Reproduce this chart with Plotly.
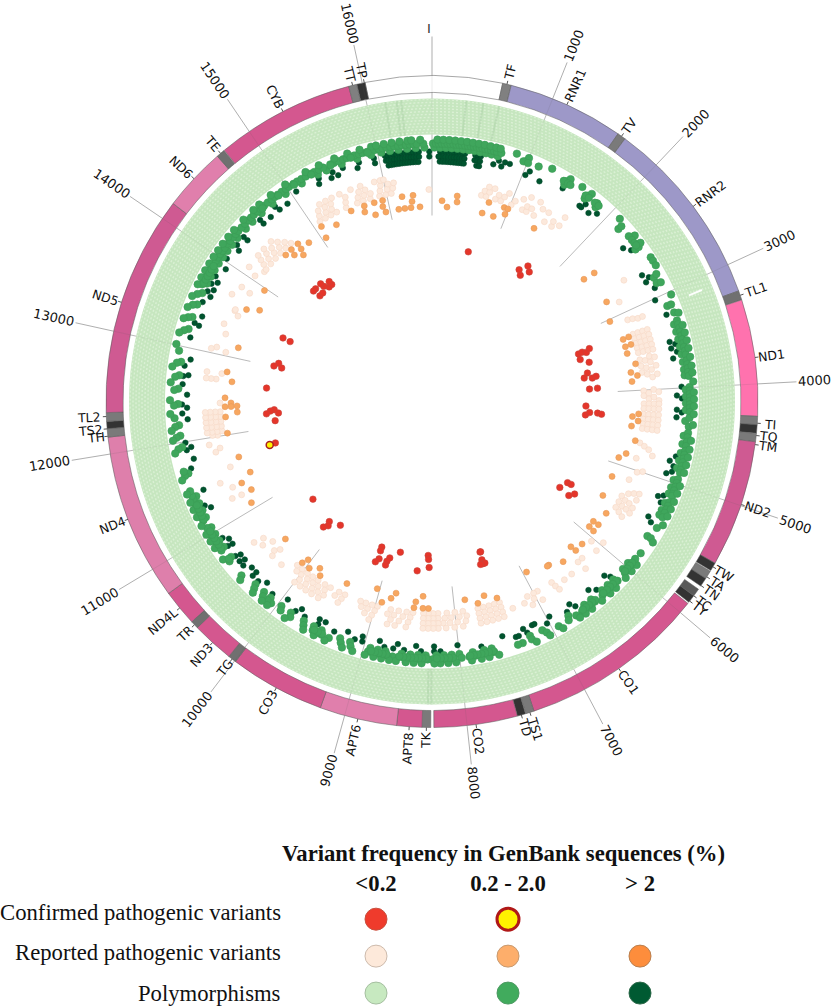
import math
import plotly.graph_objects as go

GENOME = 16569
W, H = 835, 1008
CX, CY, RMAX = 432, 401.5, 395

gene_names = ["DL","TF","RNR1","TV","RNR2","TL1","ND1","TI","TQ","TM","ND2","TW","TA","TN","TC","TY","CO1","TS1","TD","CO2","TK","APT8","APT6","CO3","TG","ND3","TR","ND4L","ND4","TH","TS2","TL2","ND5","ND6","TE","CYB","TT","TP"]
gene_start = [16024,577,648,1602,1671,3230,3307,4263,4331,4402,4470,5512,5587,5657,5761,5827,5904,7446,7518,7586,8295,8366,8572,9207,9991,10059,10405,10470,10767,12138,12207,12266,12337,14149,14674,14747,15888,15956]
gene_end = [17145,647,1601,1670,3229,3304,4262,4330,4400,4469,5511,5579,5655,5729,5826,5891,7445,7514,7585,8269,8364,8572,9207,9990,10058,10404,10469,10766,12137,12206,12265,12336,14148,14673,14742,15887,15953,16023]
gene_fill = ["#FFFFFF","#808080","#9D98C8","#7A7A7A","#9D98C8","#707070","#FF72AE","#7A7A7A","#333333","#7A7A7A","#CF5A92","#333333","#7A7A7A","#333333","#5A5A5A","#333333","#D4578F","#7A7A7A","#333333","#D4578F","#7A7A7A","#D4578F","#E07FAC","#D4578F","#707070","#D4578F","#707070","#D4578F","#DE7FAB","#7A7A7A","#333333","#7A7A7A","#CF5A92","#E07FAC","#707070","#D4578F","#808080","#333333"]

label_names = ["TF","RNR1","TV","RNR2","TL1","ND1","TI","TQ","TM","ND2","TW","TA","TN","TC","TY","CO1","TS1","TD","CO2","TK","APT8","APT6","CO3","TG","ND3","TR","ND4L","ND4","TH","TS2","TL2","ND5","ND6","TE","CYB","TT","TP"]
label_pos = [612,1125,1636,2450,3267,3785,4318,4418,4492,4990,5545,5640,5725,5826,5880,6675,7480,7552,7927,8330,8469,8890,9598,10025,10232,10437,10618,11452,12145,12205,12305,13242,14411,14708,15317,15920,16017]

tick_pos = [1000,2000,3000,4000,5000,6000,7000,8000,9000,10000,11000,12000,13000,14000,15000,16000]
band_mark_pos = [16160,16260,16300,300,450,590,8290,8320]
band_slit_pos = [3107,3112]

mid_radii = [254,258,262,257]
mid_a = [25,85,145,205,265,325,385,445,505,565,625,690,1445,1700,1845,2173,2449,2800,2863,3125,3330,3410,3490,3570,3650,3730,3810,3870,4020,4090,4160,4230,4345,4500,4585,4680,4760,4840,4970,5050,5120,5225,5305,5360,5615,5960,6040,6190,6270,6350,6500,6590,6790,7100,7240,7660,7740,7860,8000,8080,8160,8240,8350,8430,8510,8600,8770,8850,8930,9150,9260,9470,9560,9680,9838,9958,10100,10190,10310,10690,10820,10900,10980,11060,11180,11260,11340,11420,11670,11950,12070,12180,12400,12560,12700,12840,13190,13320,13460,13590,13700,13780,13860,13940,14020,14100,14180,14270,14400,14500,14630,14780,14950,15150,15340,15440,15610,15780,15930,16040,16130,16220,16310,16400,16490]
mid_b = [10,40,70,100,130,160,190,220,250,280,310,340,370,400,430,460,490,520,550,580,610,640,672,718,985,1124,1445,1708,1833,2173,2449,2780,2875,3125,3213,3300,3340,3380,3420,3460,3500,3540,3580,3620,3660,3720,3760,3800,3840,3880,3995,4030,4065,4100,4135,4170,4205,4250,4310,4400,4465,4510,4555,4600,4650,4690,4730,4770,4810,4850,4880,4950,4990,5030,5070,5110,5130,5200,5240,5280,5320,5370,5493,5615,5800,5905,5945,5985,6025,6057,6168,6210,6250,6290,6330,6380,6482,6525,6565,6605,6646,6720,6812,6930,7068,7236,7337,7388,7642,7680,7720,7760,7800,7840,7900,7980,8060,8100,8140,8180,8220,8285,8330,8370,8410,8450,8490,8530,8570,8630,8690,8745,8785,8825,8865,8905,8945,9132,9238,9370,9450,9490,9552,9660,9818,9938,10060,10110,10170,10290,10476,10665,10803,10840,10880,10920,10960,11000,11040,11074,11160,11200,11240,11280,11320,11360,11400,11440,11490,11655,11700,11935,12055,12165,12255,12385,12545,12680,12825,12950,13165,13305,13440,13560,13670,13710,13750,13790,13830,13870,13910,13950,13990,14030,14070,14110,14160,14200,14250,14290,14330,14380,14430,14480,14520,14560,14610,14650,14700,14750,14800,14840,14880,14930,14980,15020,15075,15120,15170,15220,15280,15320,15370,15420,15500,15540,15590,15640,15680,15720,15760,15810,15850,15900,15980,16020,16060,16100,16140,16180,16220,16260,16300,16340,16380,16412,16480]
mid_c = [55,115,175,235,295,355,415,475,535,595,655,700,870,1000,1257,1470,1612,1730,2108,2333,2426,2605,2647,2700,3033,3230,3360,3440,3520,3600,3690,3780,3850,3940,4050,4120,4190,4270,4380,4540,4630,4710,4790,4870,5010,5090,5180,5260,5340,5440,5640,5920,6000,6090,6230,6310,6420,6550,6630,6700,6900,7050,7200,7600,7700,7780,7880,8040,8120,8200,8260,8390,8470,8550,8650,8720,8800,8880,8970,9100,9210,9400,9520,9640,9860,10080,10150,10270,10450,10720,10860,10940,11020,11120,11220,11300,11380,11470,11620,11900,12030,12130,12300,12440,12620,12780,13010,13130,13280,13400,13520,13650,13730,13810,13890,13970,14050,14130,14220,14310,14450,14590,14670,14820,15000,15240,15390,15560,15700,15830,15950,16000,16080,16160,16240,16320,16360,16450]
mid_d = [960,1010,1420,1470,1500,1690,1730,1810,1860,2300,2350,2390,2420,5880,5930,5970,6010,6045,6180,6225,6265,6310,6360,6470,6510,6550,6590,6630,7650,7695,7735,7775,7815,7855,7890,8070,8110,8155,8195,8235,8345,8385,8420,8460,8500,8540,8580,8620,8755,8795,8835,8875,8915,9450,9500,9540,10690,10830,10870,10910,10950,10990,11030,11170,11210,11250,11290,11330,13690,13730,13770,13810,13850,13890,14670,14880,15075,15280,15500,15720,15900]

dark_radii = [250,245,240]
dark_a = [85,115,145,175,205,235,265,295,325,350,460,490,520,715,782,835,1060,1450,1745,1900,2430,2770,2900,3208,3530,3613,3986,4110,4258,4727,4833,4893,5160,5238,5472,6190,6392,6674,6780,7024,7254,7382,7350,7760,8195,8262,8400,8580,8695,8790,9030,9113,9344,9530,9693,9806,10110,10312,10393,10600,10540,10670,10803,10905,11295,11712,11910,11990,12300,12395,12610,12695,12805,13110,13270,13505,13630,13720,13810,14030,14210,14320,14570,14780,15055,15330,15490,15607,15787,15950,16070,16100,16130,16160,16190,16220,16250,16280,16310,16340,16370,16400,16430,16540]
dark_b = [85,115,145,175,205,235,265,295,325,350,460,490,520,70,667,756,1031,1197,1703,1727,1827,2360,2716,2803,3020,3494,3567,3677,4078,4230,4313,4786,4925,5187,5430,6227,6458,6715,6968,7176,7148,7280,7517,8010,8262,8455,8653,8850,9040,9206,9468,9540,9760,9944,10232,10393,10463,10578,10648,10793,10860,11250,11455,11805,11935,12235,12360,12500,12710,12880,13255,13360,13590,13670,13760,13930,14175,14320,14570,14675,14800,14905,15307,15455,15533,15755,15950,16070,16100,16130,16160,16190,16220,16250,16280,16310,16340,16370,16400,16430,16540]
dark_c = [85,115,145,175,205,235,265,295,325,350,490,520,16090,16120,16150,16180,16210,16240,16270,16300,16330,16360,16390,16420]

light_radii = [212,217,222,227]
light_a = [620,680,800,870,1010,1160,1215,1320,1473,1580,2854,3100,3290,3350,3410,3470,3530,3620,3700,3780,4010,4070,4170,4230,4300,4360,4420,4480,4660,4857,5138,5360,5440,5520,6040,7430,7500,7570,7640,7710,7900,8000,8100,8210,8270,8330,8390,8520,8600,8700,8800,8970,9040,9120,9190,9400,9480,9600,9680,9780,9860,9940,10020,10100,10390,10525,11225,11600,12060,12120,12180,12240,12300,12408,12775,13045,13520,13840,14165,14200,14290,14380,14470,14560,14650,15100,15180,15260,15340,15470,15620,15700,15790,15910,15990,16060,16530]
light_b = [650,710,830,900,1040,1200,1260,1565,1652,3110,3290,3350,3410,3470,3530,3640,3730,3810,4040,4110,4170,4230,4300,4360,4420,4480,4690,5018,5300,5390,5470,5550,6337,6270,6745,6947,7085,7000,7430,7500,7570,7640,7710,7860,7950,8050,8130,8210,8270,8330,8390,8550,8640,8750,8830,8990,9080,9160,9420,9510,9650,9740,9820,9900,9990,10060,10630,10430,11355,11857,12014,12060,12120,12180,12240,12300,12700,13260,13565,13580,14055,14230,14320,14420,14510,14600,15130,15220,15300,15490,15650,15730,15810,15930,16020,16090]
light_c = [690,760,940,1124,1380,1460,3130,3290,3350,3410,3470,3530,3600,3670,3760,3850,4000,4090,4170,4230,4300,4360,4420,4480,4720,4990,5270,5400,5480,5580,5960,6085,6490,6600,6730,7025,7152,7302,7430,7500,7570,7640,7710,7880,7980,8070,8150,8210,8270,8330,8390,8570,8680,8780,9010,9100,9440,9630,9710,9790,9880,9970,10250,10400,10570,11235,11820,12022,12060,12120,12180,12240,12300,12700,13080,13370,13855,14250,14350,14440,14540,15150,15240,15320,15510,15680,15760,15950,16040,16110]
light_d = [1197,1316,1652,2656,3130,3290,3350,3410,3470,3530,3620,3720,3820,4030,4130,4170,4230,4300,4360,4420,4480,4782,5250,5330,5430,5500,6325,6712,6940,7070,7430,7500,7570,7640,7710,7920,8020,8120,8210,8270,8330,8390,8590,8720,8810,9030,9670,9760,9840,9920,10000,10660,11455,11918,12060,12120,12180,12240,12300,12700,12775,13050,13725,14100,14270,14370,14490,15200,15280,15360,15460,15600,15720,15890,15960,16000]

orange_radii = [195,201,207]
orange_a = [16407,16285,16201,16118,15795,15940,15055,2356,3029,203,686,843,4911,5182,5468,6950,8405,8773,9035,12283,12367,13710,14670,11450]
orange_b = [16307,15917,15670,15262,132,330,980,1404,2775,3314,3415,3507,3760,3880,4340,4465,4833,5827,5914,6273,6650,6674,7594,7852,8497,8825,9437,9845,10035,10440,11230,11690,12408,12360,12685,13140,13970,14830,14700,14580]
orange_c = [16327,16186,15934,15823,15690,15511,15083,322,735,940,990,2375,3305,3406,3660,3810,4300,4391,4644,5647,5823,5925,6260,6145,6475,7443,7695,8330,8400,8515,8930,9790,9958,10070,11080,11360,12022,12230,12360,12473,12805,13640,14710,14600,14500]

red_radii = [154,158,162,166,170]
red_a = [627,1610,3315,3415,3740,4220,4372,5703,8350,9160,9965,10615,12230,13005,13480,14420,14490,14640,14700,8830]
red_b = [1540,3305,3665,3935,4327,5565,7470,7460,8342,9160,10150,12106,12290,13070,14580,14700]
red_c = [1698,3330,3497,3760,5560,8980,10120,11745,12270,13010,14455,14405,14570,13490]
red_d = [1625,3287,3740,3930,4327,5730,7480,8330,9140,9010,10165,12230,12640]
red_e = [4340,5660,7480,7450,7520,8515,9180,9015]
yellow_pos = [11737]
yellow_r = [168]

legend_cols = ["<0.2","0.2 - 2.0","> 2"]
legend_rows = ["Confirmed pathogenic variants","Reported pathogenic variants","Polymorphisms"]
legend_x = ["<0.2","0.2 - 2.0","<0.2","0.2 - 2.0","> 2","<0.2","0.2 - 2.0","> 2"]
legend_y = [legend_rows[0]]*2 + [legend_rows[1]]*3 + [legend_rows[2]]*3
legend_fill = ["#EF3B2C","#FFF200","#FDE9DA","#FDAE6B","#FD8D3C","#C7E9C0","#41AB5D","#005A32"]
legend_edge = ["#C9503F","#B01818","#CDBBAD","#C79A70","#B98050","#A5BFA0","#4E9A63","#2E6A4A"]
legend_lw = [1,3,1,1,1,1,1,1]
legend_title = "Variant frequency in GenBank sequences (%)"


def deg(pos):
    return pos * 360.0 / GENOME


def paper(pos, r):
    a = math.radians(deg(pos))
    return (CX + r * math.sin(a)) / W, 1 - (CY - r * math.cos(a)) / H


def radial(positions, r0, r1):
    t, rr = [], []
    for p in positions:
        t += [deg(p), deg(p), None]
        rr += [r0, r1, None]
    return t, rr


fig = go.Figure()

fig.add_trace(go.Barpolar(theta=[180], width=[359.99], base=[267], r=[36], marker=dict(color="#C6E6BF", line=dict(width=0)), hoverinfo="skip"))
fig.add_trace(go.Barpolar(
    theta=[deg((s + e) / 2) for s, e in zip(gene_start, gene_end)],
    width=[deg(e - s + 1) for s, e in zip(gene_start, gene_end)],
    base=[309] * len(gene_start), r=[17] * len(gene_start),
    marker=dict(color=gene_fill, line=dict(color="rgba(95,95,95,0.55)", width=1)),
    text=gene_names, hoverinfo="text"))

for rr in [269, 272, 275, 278, 281, 284, 287, 290, 293, 296, 299, 302]:
    fig.add_trace(go.Scatterpolar(theta=list(range(0, 361)), r=[rr] * 361, mode="lines",
                                  line=dict(color="#DAF0D4", width=1.4, dash="2px,2px"), hoverinfo="skip"))
t, rr = radial(band_mark_pos, 267, 303)
fig.add_trace(go.Scatterpolar(theta=t, r=rr, mode="lines", line=dict(color="rgba(120,165,120,0.16)", width=2), hoverinfo="skip"))
t, rr = radial(band_slit_pos, 278, 292)
fig.add_trace(go.Scatterpolar(theta=t, r=rr, mode="lines", line=dict(color="rgba(255,255,255,0.9)", width=1.5), hoverinfo="skip"))

guide = tick_pos + [0]
for a, b, col in [(186, 267, "rgba(130,130,130,0.55)"), (267, 303, "rgba(120,120,120,0.08)"), (303, 309, "rgba(130,130,130,0.55)"),
                  (309, 326, "rgba(90,90,90,0.12)"), (326, 365, "rgba(130,130,130,0.65)")]:
    t, rr = radial(guide, a, b)
    fig.add_trace(go.Scatterpolar(theta=t, r=rr, mode="lines", line=dict(color=col, width=1), hoverinfo="skip"))
t, rr = radial(label_pos, 326, 329.5)
fig.add_trace(go.Scatterpolar(theta=t, r=rr, mode="lines", line=dict(color="#555555", width=1), hoverinfo="skip"))


def dots(groups, radii, fill, edge, size):
    for g, rad in zip(groups, radii):
        fig.add_trace(go.Scatterpolar(theta=[deg(p) for p in g], r=[rad] * len(g), mode="markers",
                                      marker=dict(color=fill, size=size, line=dict(color=edge, width=0.6)),
                                      hovertemplate="%{r}<extra></extra>"))


dots([light_a, light_b, light_c, light_d], light_radii, "#FCE9DC", "#F6D9C6", 6)
dots([orange_a, orange_b, orange_c], orange_radii, "#F7A760", "#E8985A", 6)
dots([dark_a, dark_b, dark_c], dark_radii, "#00542E", "#00482A", 5.5)
dots([mid_a, mid_b, mid_c, mid_d], mid_radii, "#3FA65C", "#3A9C56", 7.5)
dots([red_a, red_b, red_c, red_d, red_e], red_radii, "#E5352A", "#C8443A", 6.5)
fig.add_trace(go.Scatterpolar(theta=[deg(p) for p in yellow_pos], r=yellow_r, mode="markers",
                              marker=dict(color="#FFF200", size=7, line=dict(color="#A82020", width=1.5))))

fig.add_trace(go.Scatter(x=legend_x, y=legend_y, mode="markers", xaxis="x", yaxis="y",
                         marker=dict(color=legend_fill, size=22, line=dict(color=legend_edge, width=legend_lw))))

ann = []
for name, p in zip(label_names, label_pos):
    r = 329 + 4.7 * len(name)
    x, y = paper(p, r)
    th = deg(p)
    ang = th - 90 if th < 180 else th + 90
    ang = (ang + 180) % 360 - 180
    ann.append(dict(x=x, y=y, xref="paper", yref="paper", text=name, showarrow=False, textangle=ang,
                    xanchor="center", yanchor="middle", font=dict(family="DejaVu Sans", size=12.5, color="#111111")))
for p in tick_pos:
    s = str(p)
    r = 367 + 4.1 * len(s)
    x, y = paper(p, r)
    th = deg(p)
    ang = th - 90 if th < 180 else th + 90
    ang = (ang + 180) % 360 - 180
    ann.append(dict(x=x, y=y, xref="paper", yref="paper", text=s, showarrow=False, textangle=ang,
                    xanchor="center", yanchor="middle", font=dict(family="DejaVu Sans", size=13, color="#111111")))
ann.append(dict(x=429 / W, y=1 - 28 / H, xref="paper", yref="paper", text="I", showarrow=False, yanchor="middle",
                font=dict(family="DejaVu Sans", size=13, color="#333333")))
ann.append(dict(x=504 / W, y=1 - 853 / H, xref="paper", yref="paper", text="<b>%s</b>" % legend_title, showarrow=False,
                yanchor="middle", font=dict(family="Liberation Serif", size=22.7, color="#111111")))
for lab, shift in zip(legend_rows, [7, 4, 0]):
    ann.append(dict(x=283 / W, y=lab, xref="paper", yref="y", text=lab, showarrow=False, xanchor="right", yshift=shift,
                    font=dict(family="Liberation Serif", size=22.7, color="#111111")))

fig.update_layout(
    width=W, height=H, margin=dict(l=0, r=0, t=0, b=0), paper_bgcolor="white", plot_bgcolor="rgba(0,0,0,0)",
    showlegend=False, annotations=ann,
    polar=dict(domain=dict(x=[(CX - RMAX) / W, (CX + RMAX) / W], y=[1 - (CY + RMAX) / H, 1 - (CY - RMAX) / H]),
               bgcolor="rgba(0,0,0,0)", barmode="overlay",
               radialaxis=dict(visible=False, range=[0, RMAX]),
               angularaxis=dict(visible=False, direction="clockwise", rotation=90)),
    xaxis=dict(domain=[310 / W, 706 / W], type="category", categoryorder="array", categoryarray=legend_cols,
               range=[-0.5, 2.5], side="top", showgrid=False, zeroline=False, showline=False, ticks="",
               tickfont=dict(family="Liberation Serif", size=22.7, color="#111111"),
               tickprefix="<b>", ticksuffix="</b>"),
    yaxis=dict(domain=[1 - 1006 / H, 1 - 897 / H], type="category", categoryorder="array", categoryarray=legend_rows,
               range=[2.35, -0.6], showgrid=False, zeroline=False, showline=False, showticklabels=False, ticks=""),
)

fig.write_html("out.html", post_script="document.body.style.margin='0';document.body.style.overflow='hidden';",
               config=dict(displayModeBar=False))
